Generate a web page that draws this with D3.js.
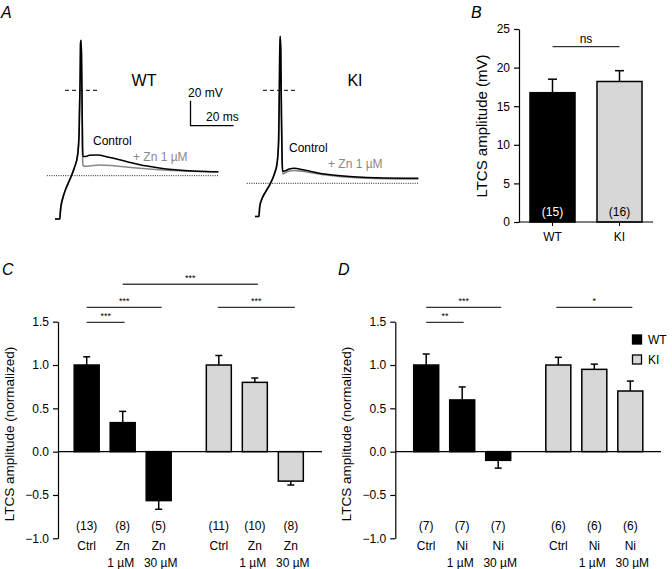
<!DOCTYPE html>
<html><head><meta charset="utf-8">
<script src="https://cdn.jsdelivr.net/npm/d3@7"></script>
<style>
body{margin:0;background:#fff;}
text{font-family:"Liberation Sans",Arial,Helvetica,sans-serif;}
</style></head>
<body>
<svg id="fig" width="672" height="569"></svg>
<script>
// ---------- DATA ----------
// Panel A traces: [time (ms), membrane potential (mV)]
const wtControl = [[0,-103],[2.2,-103],[2.6,-95],[3.5,-87],[5,-79],[7,-71],[9,-62],[10.5,-52],[11.2,-35],[11.7,10],[11.9,38],[12.1,40],[12.3,30],[12.6,-10],[12.8,-45],[13.0,-53],[14,-53],[16,-52],[19.5,-51.8],[25,-53.5],[30,-55.5],[35,-57.8],[40,-59.7],[45,-61.2],[50,-62.5],[56,-63.6],[62,-64.3],[70,-64.9],[76,-65.1]];
const wtZn = [[0,-103],[2.2,-103],[2.6,-95],[3.5,-87],[5,-79],[7,-71],[9,-62],[10.5,-52],[11.2,-35],[11.7,10],[11.9,38],[12.1,40],[12.3,30],[12.6,-10],[12.8,-50],[13.0,-60],[14,-60.8],[17,-60.3],[21,-59.8],[26,-60.2],[31,-61],[38,-62.2],[45,-63.2],[52,-64],[60,-64.6],[68,-65],[76,-65.2]];
const kiControl = [[0,-101],[1.8,-101],[2.2,-93],[3.2,-87],[5,-81],[7,-75],[9,-67],[10.3,-58],[11.0,-40],[11.4,10],[11.6,43],[11.8,43],[12.0,30],[12.3,-20],[12.6,-55],[12.9,-65],[14,-64.5],[16,-63],[18,-62.3],[20,-62.8],[24,-64.2],[30,-66.3],[36,-67.7],[44,-69],[52,-69.8],[60,-70.2],[76,-70.4]];
const kiZn = [[0,-101],[1.8,-101],[2.2,-93],[3.2,-87],[5,-81],[7,-75],[9,-67],[10.3,-58],[11.0,-40],[11.4,10],[11.6,43],[11.8,43],[12.0,30],[12.3,-20],[12.6,-57],[12.9,-67],[14,-66],[16,-64.6],[18,-64.2],[22,-64.8],[28,-66.5],[36,-68.3],[44,-69.6],[52,-70.3],[60,-70.7],[76,-71]];
const wtRest = -68.3, kiRest = -74.4;

// Panel B
const bGenotypes = ["WT","KI"];
const bMeans = [16.75, 18.2];
const bSem = [1.75, 1.4];
const bN = ["(15)","(16)"];
const bTicks = [0,5,10,15,20,25];

// Panel C
const cCats = [["Ctrl"],["Zn","1 µM"],["Zn","30 µM"],["Ctrl"],["Zn","1 µM"],["Zn","30 µM"]];
const cGeno = ["WT","WT","WT","KI","KI","KI"];
const cMeans = [1.0, 0.335, -0.565, 1.0, 0.80, -0.34];
const cSem = [0.095, 0.13, 0.10, 0.11, 0.05, 0.045];
const cN = ["(13)","(8)","(5)","(11)","(10)","(8)"];

// Panel D
const dCats = [["Ctrl"],["Ni","1 µM"],["Ni","30 µM"],["Ctrl"],["Ni","1 µM"],["Ni","30 µM"]];
const dGeno = ["WT","WT","WT","KI","KI","KI"];
const dMeans = [1.0, 0.597, -0.10, 1.0, 0.95, 0.70];
const dSem = [0.127, 0.15, 0.09, 0.089, 0.06, 0.115];
const dN = ["(7)","(7)","(7)","(6)","(6)","(6)"];

const normTicks = [-1.0,-0.5,0.0,0.5,1.0,1.5];

// ---------- DRAW ----------
const svg = d3.select("#fig");
const colors = {WT:"#000000", KI:"#d7d7d7"};
const FONT = 12;

function panelLabel(t,x,y){
  svg.append("text").attr("x",x).attr("y",y).attr("font-size",16).attr("font-style","italic").text(t);
}

// ===== Panel A =====
panelLabel("A",1,18);
const tScaleMs = 2.15, vScale = 1.25, zeroY = 90.3;
function traceScales(x0){
  const xs = d3.scaleLinear().domain([0,1]).range([x0, x0+tScaleMs]);
  const ys = d3.scaleLinear().domain([0,1]).range([zeroY, zeroY - vScale]);
  return [xs,ys];
}
function drawTrace(x0, ctrl, zn, rest, tStart, zeroT){
  const [xs,ys] = traceScales(x0);
  const line = d3.line().x(d=>xs(d[0])).y(d=>ys(d[1])).curve(d3.curveMonotoneX);
  svg.append("line").attr("x1",xs(tStart)).attr("x2",xs(76)).attr("y1",ys(rest)).attr("y2",ys(rest))
    .attr("stroke","#222").attr("stroke-width",1).attr("stroke-dasharray","1,1.3");
  svg.append("line").attr("x1",xs(zeroT[0])).attr("x2",xs(zeroT[1])).attr("y1",ys(0)).attr("y2",ys(0))
    .attr("stroke","#333").attr("stroke-width",1.2).attr("stroke-dasharray","4,3");
  svg.append("path").attr("d",line(zn)).attr("fill","none").attr("stroke","#888").attr("stroke-width",1.6);
  svg.append("path").attr("d",line(ctrl)).attr("fill","none").attr("stroke","#000").attr("stroke-width",1.6);
}
drawTrace(55, wtControl, wtZn, wtRest, -3.8, [4.65, 20]);
drawTrace(255, kiControl, kiZn, kiRest, -3.8, [3.7, 18.6]);

svg.append("text").attr("x",144).attr("y",86).attr("text-anchor","middle").attr("font-size",16).text("WT");
svg.append("text").attr("x",355).attr("y",86).attr("text-anchor","middle").attr("font-size",16).text("KI");
{
  const sx = 190.5, sy = 125.7;
  svg.append("path").attr("d",`M${sx},${sy-20*vScale}V${sy}H${sx+20*tScaleMs}`)
    .attr("fill","none").attr("stroke","#000").attr("stroke-width",1.3);
  svg.append("text").attr("x",188).attr("y",97).attr("font-size",FONT).text("20 mV");
  svg.append("text").attr("x",206).attr("y",121).attr("font-size",FONT).text("20 ms");
}
svg.append("text").attr("x",93).attr("y",145).attr("font-size",FONT).text("Control");
svg.append("text").attr("x",133).attr("y",161).attr("font-size",FONT).attr("fill","#888").text("+ Zn 1 µM");
svg.append("text").attr("x",289).attr("y",152).attr("font-size",FONT).text("Control");
svg.append("text").attr("x",328).attr("y",168).attr("font-size",FONT).attr("fill","#888").text("+ Zn 1 µM");

// ===== Panel B =====
panelLabel("B",471,18);
{
  const y = d3.scaleLinear().domain([0,25]).range([222,29]);
  const x = d3.scaleBand().domain(bGenotypes).range([519,653]).paddingInner(0.328).paddingOuter(0.164);
  const ax = svg.append("g").attr("transform","translate(519,0)")
    .call(d3.axisLeft(y).tickValues(bTicks).tickSize(5).tickSizeOuter(0).tickPadding(4));
  ax.selectAll("text").attr("font-size",FONT).attr("font-family","Liberation Sans, Arial, sans-serif");
  ax.selectAll("path,line").attr("stroke-width",1.2);
  bGenotypes.forEach((g,i)=>{
    const cx = x(g)+x.bandwidth()/2;
    svg.append("line").attr("x1",cx).attr("x2",cx).attr("y1",y(bMeans[i])).attr("y2",y(bMeans[i]+bSem[i])).attr("stroke","#000").attr("stroke-width",1.5);
    svg.append("line").attr("x1",cx-4.5).attr("x2",cx+4.5).attr("y1",y(bMeans[i]+bSem[i])).attr("y2",y(bMeans[i]+bSem[i])).attr("stroke","#000").attr("stroke-width",1.5);
  });
  svg.selectAll(".bbar").data(bGenotypes).join("rect")
    .attr("x",g=>x(g)).attr("width",x.bandwidth())
    .attr("y",(g,i)=>y(bMeans[i])).attr("height",(g,i)=>y(0)-y(bMeans[i]))
    .attr("fill",g=>colors[g]).attr("stroke","#000").attr("stroke-width",1.5);
  const xa = svg.append("g").attr("transform","translate(0,222)")
    .call(d3.axisBottom(x).tickSize(4).tickSizeOuter(0).tickPadding(6));
  xa.selectAll("text").attr("font-size",FONT).attr("font-family","Liberation Sans, Arial, sans-serif");
  xa.select("path").attr("d","M519,0H653").attr("stroke-width",1.2);
  bGenotypes.forEach((g,i)=>{
    svg.append("text").attr("x",x(g)+x.bandwidth()/2).attr("y",216).attr("text-anchor","middle")
      .attr("font-size",FONT).attr("fill",g==="WT"?"#fff":"#000").text(bN[i]);
  });
  svg.append("text").attr("transform","translate(487,126) rotate(-90)").attr("text-anchor","middle")
    .attr("font-size",15).text("LTCS amplitude (mV)");
  const xW = x("WT")+x.bandwidth()/2, xK = x("KI")+x.bandwidth()/2;
  svg.append("line").attr("x1",xW).attr("x2",xK).attr("y1",46.7).attr("y2",46.7).attr("stroke","#000").attr("stroke-width",1);
  svg.append("text").attr("x",(xW+xK)/2).attr("y",43).attr("text-anchor","middle").attr("font-size",FONT).text("ns");
}

// ===== Panels C & D =====
function normPanel(opt){
  const {axisX, axisEnd, firstCenter, cats, geno, means, sem, ns, sig, label, labelX, ylabX} = opt;
  panelLabel(label, labelX, 275);
  const y = d3.scaleLinear().domain([-1,1.5]).range([538.3,321.7]);
  const slot = i => i + (i>=3 ? 0.67 : 0);
  const x = d3.scaleLinear().domain([0,1]).range([firstCenter, firstCenter+36]);
  const cx = i => x(slot(i));
  const bw = 25;
  const ax = svg.append("g").attr("transform",`translate(${axisX},0)`)
    .call(d3.axisLeft(y).tickValues(normTicks).tickSize(5).tickSizeOuter(0).tickPadding(4)
      .tickFormat(d=>d3.format(".1f")(d).replace("-","−")));
  ax.selectAll("text").attr("font-size",FONT).attr("font-family","Liberation Sans, Arial, sans-serif");
  ax.selectAll("path,line").attr("stroke-width",1.2);
  means.forEach((m,i)=>{
    const e = m>=0 ? m+sem[i] : m-sem[i];
    svg.append("line").attr("x1",cx(i)).attr("x2",cx(i)).attr("y1",y(m)).attr("y2",y(e)).attr("stroke","#000").attr("stroke-width",1.5);
    svg.append("line").attr("x1",cx(i)-3.5).attr("x2",cx(i)+3.5).attr("y1",y(e)).attr("y2",y(e)).attr("stroke","#000").attr("stroke-width",1.5);
  });
  means.forEach((m,i)=>{
    svg.append("rect").attr("x",cx(i)-bw/2).attr("width",bw)
      .attr("y",y(Math.max(0,m))).attr("height",Math.abs(y(m)-y(0)))
      .attr("fill",colors[geno[i]]).attr("stroke","#000").attr("stroke-width",1.5);
  });
  svg.append("line").attr("x1",axisX).attr("x2",axisEnd).attr("y1",y(0)).attr("y2",y(0)).attr("stroke","#000").attr("stroke-width",1.2);
  ns.forEach((n,i)=>{
    svg.append("text").attr("x",cx(i)).attr("y",530).attr("text-anchor","middle").attr("font-size",FONT).text(n);
    cats[i].forEach((t,k)=>{
      svg.append("text").attr("x",cx(i)+(k===1? (t.length>4?2:-2):0)).attr("y",550+k*17).attr("text-anchor","middle").attr("font-size",FONT).text(t);
    });
  });
  sig.forEach(s=>{
    const x1 = cx(s.a)+ (s.da||0), x2 = cx(s.b)+(s.db||0);
    svg.append("line").attr("x1",x1).attr("x2",x2).attr("y1",s.y).attr("y2",s.y)
      .attr("stroke",s.strong?"#444":"#000").attr("stroke-width",s.strong?1.6:1);
    svg.append("text").attr("x",(x1+x2)/2).attr("y",s.y-3).attr("text-anchor","middle").attr("font-size",9).text(s.t);
  });
  svg.append("text").attr("transform",`translate(${ylabX},434) rotate(-90)`).attr("text-anchor","middle")
    .attr("font-size",13.5).text("LTCS amplitude (normalized)");
}

normPanel({axisX:58, axisEnd:322, firstCenter:86.7, cats:cCats, geno:cGeno, means:cMeans, sem:cSem, ns:cN,
  label:"C", labelX:2, ylabX:14,
  sig:[{a:1,b:4,db:3,y:284.3,t:"***",strong:true},
       {a:0,b:2,db:3,y:307.3,t:"***"},
       {a:3,b:5,da:-1,db:4,y:307.3,t:"***"},
       {a:0,b:1,db:2,y:322.3,t:"***"}]});

normPanel({axisX:395.3, axisEnd:661, firstCenter:426.2, cats:dCats, geno:dGeno, means:dMeans, sem:dSem, ns:dN,
  label:"D", labelX:338, ylabX:351,
  sig:[{a:0,b:2,db:3,y:307.3,t:"***"},
       {a:0,b:1,db:1.5,y:322.3,t:"**"},
       {a:3,b:5,da:-2,db:2,y:307.3,t:"*"}]});

// legend
[["WT",335],["KI",355]].forEach(([g,yy])=>{
  svg.append("rect").attr("x",632.5).attr("y",yy).attr("width",9).attr("height",9)
    .attr("fill",colors[g]).attr("stroke","#000").attr("stroke-width",1.3);
  svg.append("text").attr("x",648).attr("y",yy+9).attr("font-size",FONT).text(g);
});
</script>
</body></html>
